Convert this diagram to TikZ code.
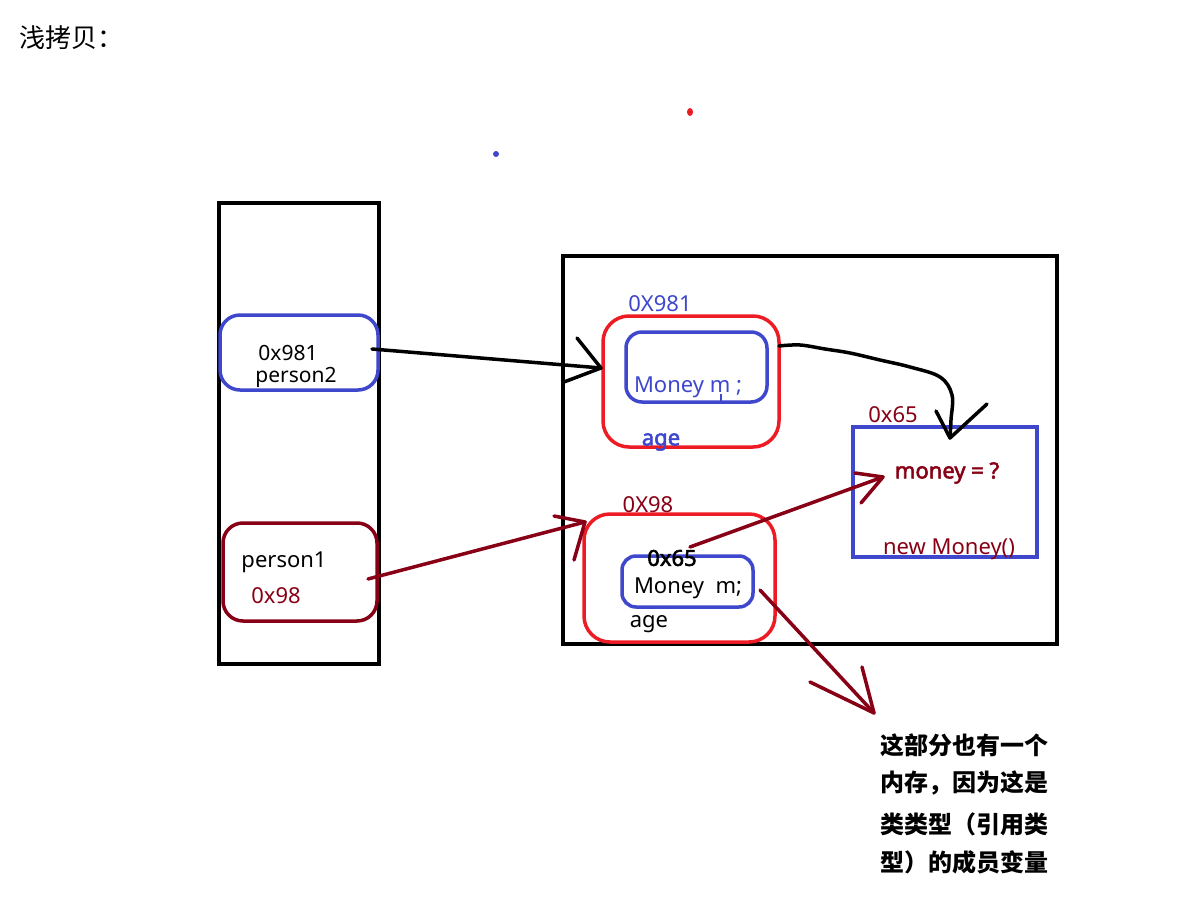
\documentclass[tikz,border=0pt]{standalone}
\usepackage{fontspec}
\usetikzlibrary{calc}
\setmainfont{Noto Sans}[AutoFakeBold=2.5]
\newfontfamily\cjk{Noto Sans CJK SC}
\definecolor{pblue}{HTML}{3F48CC}
\definecolor{pred}{HTML}{ED1C24}
\definecolor{pdark}{HTML}{880015}
\begin{document}
\begin{tikzpicture}[x=1pt,y=-1pt,
  box/.style={draw,line width=3.5pt,inner sep=0pt,outer sep=0pt},
  rbox/.style={box,rounded corners=#1},
  stroke/.style={line width=3.5pt,line cap=round,line join=round},
  lbl/.style={inner sep=0pt,font=\fontsize{22}{24}\selectfont},
  blbl/.style={lbl,font=\fontsize{22}{24}\selectfont\bfseries},
  cn/.style={inner sep=0pt,anchor=west,font=\fontsize{24}{26}\selectfont\cjk\bfseries}]
\useasboundingbox (0,0) rectangle (1184,904);
\fill[white] (0,0) rectangle (1184,904);
% title
\node[inner sep=0pt,anchor=west,font=\fontsize{26}{28}\selectfont\cjk] (title) at (19,38) {浅拷贝：};
% dots
\fill[pred] (690,112) ellipse (3pt and 4pt);
\fill[pblue] (496,154) circle (3pt);
% stack and heap
\node[box,minimum width=160pt,minimum height=461pt] (stack) at (299,433.5) {};
\node[box,minimum width=494pt,minimum height=388pt] (heap) at (810,450) {};
% person boxes
\node[rbox=20pt,pblue,minimum width=158pt,minimum height=75pt] (p2) at (299,352.5) {};
\node[lbl,font=\fontsize{21}{22}\selectfont] (p2a) at (288,353) {0x981};
\node[lbl,font=\fontsize{21}{22}\selectfont] (p2b) at (296,377) {person2};
\node[rbox=20pt,pdark,minimum width=154pt,minimum height=98pt] (p1) at (300,572) {};
\node[lbl] (p1a) at (284,562) {person1};
\node[lbl,text=pdark] (p1b) at (276,596) {0x98};
% object 0X981
\node[rbox=26pt,pred,minimum width=176pt,minimum height=131pt] (o2) at (691,381.5) {};
\node[lbl,text=pblue] (o2a) at (660,304) {0X981};
\node[rbox=16pt,pblue,minimum width=141pt,minimum height=70pt] (m2) at (696.5,367) {};
\node[lbl,text=pblue] (m2t) at (688,387) {Money m ;};
\draw[pblue,line width=2.5pt] (721,394) -- (721,401);
\node[blbl,text=pblue] (o2age) at (661,442) {age};
% object 0X98
\node[rbox=26pt,pred,minimum width=191pt,minimum height=128pt] (o1) at (679.5,578) {};
\node[lbl,text=pdark] (o1a) at (648,505) {0X98};
\node[rbox=14pt,pblue,minimum width=131pt,minimum height=51pt] (m1) at (687.5,581.5) {};
\node[blbl] (m1a) at (672,558) {0x65};
\node[lbl] (m1t) at (688,588) {Money\ \ m;};
\node[lbl] (o1age) at (649,624) {age};
% money object
\node[box,pblue,minimum width=184pt,minimum height=130pt] (mo) at (945,492) {};
\node[lbl,text=pdark] (moa) at (893,415) {0x65};
\node[blbl,text=pdark] (mob) at (947,473) {money = ?};
\node[lbl,text=pdark] (moc) at (949,549) {new Money()};
% note
\node[cn] (n1) at (880,745) {这部分也有一个};
\node[cn] (n2) at (880,783) {内存，因为这是};
\node[cn] (n3) at (880,824) {类类型（引用类};
\node[cn] (n4) at (880,862) {型）的成员变量};
% connector coordinates
\coordinate (a1s) at (372,349);
\coordinate (a1e) at (601,368);
\coordinate (a2s) at (779,346);
\coordinate (a2e) at (950,438);
\coordinate (a3s) at (368,579);
\coordinate (a3e) at (585,522);
\coordinate (a4s) at (690,547);
\coordinate (a4e) at (883,477);
\coordinate (a5s) at (760,590);
\coordinate (a5e) at (874,713);
% black arrow person2 -> 0X981
\draw[stroke] (a1s) -- (a1e);
\draw[stroke] ($(a1e)+(-24,-30)$) -- (a1e) -- ++(-37,14);
% curvy black arrow
\draw[stroke] plot[smooth,tension=0.6] coordinates {(a2s) (800,345) (825,349) (850,353) (880,360) (910,367) (940,377) (952,395) (951,420) (a2e)};
\draw[stroke] (936,411) -- (a2e) -- (987,404);
% dark red arrows
\draw[stroke,pdark] (a3s) -- (a3e);
\draw[stroke,pdark] (554,516) -- (a3e) -- (574,560);
\draw[stroke,pdark] (a4s) -- (a4e);
\draw[stroke,pdark] (855,473) -- (a4e) -- (861,503);
\draw[stroke,pdark] (a5s) -- (a5e);
\draw[stroke,pdark] (810,682) -- (a5e) -- (862,667);
\end{tikzpicture}
\end{document}
